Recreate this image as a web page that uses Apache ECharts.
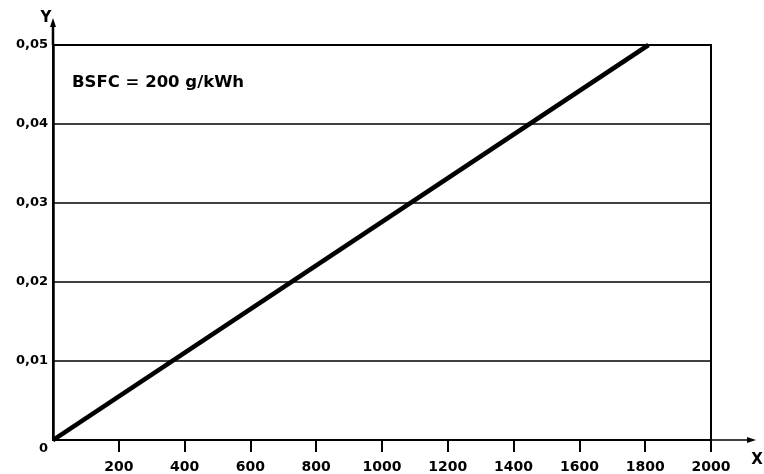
<!DOCTYPE html>
<html><head><meta charset="utf-8">
<script src="https://cdn.jsdelivr.net/npm/echarts@6/dist/echarts.min.js"></script>
<style>html,body{margin:0;padding:0;background:#fff}#c{width:764px;height:474px}</style>
</head><body><div id="c"></div>
<script>
const xValues = [0, 1810];
const yValues = [0, 0.05];
const xTicks = [0, 200, 400, 600, 800, 1000, 1200, 1400, 1600, 1800, 2000];
const yTicks = [0, 0.01, 0.02, 0.03, 0.04, 0.05];
const annotation = 'BSFC = 200 g/kWh';
const xName = 'X', yName = 'Y', originLabel = '0';

const font = 'DejaVu Sans, Liberation Sans, sans-serif';
const chart = echarts.init(document.getElementById('c'));
const option = {
  animation: false,
  grid: { left: 53, right: 53, top: 45, bottom: 31, show: true, borderColor: '#000', borderWidth: 2, backgroundColor: 'transparent' },
  xAxis: {
    type: 'value', min: xTicks[0], max: xTicks[xTicks.length - 1], interval: 200,
    axisLine: { show: true, lineStyle: { color: '#000', width: 1.5 } },
    axisTick: { show: true, inside: false, length: 12, lineStyle: { color: '#000', width: 2 } },
    axisLabel: { showMinLabel: false, margin: 20, color: '#000', fontFamily: font, fontWeight: 'bold', fontSize: 14,
      formatter: v => String(v) },
    splitLine: { show: false }
  },
  yAxis: {
    type: 'value', min: yTicks[0], max: yTicks[yTicks.length - 1], interval: 0.01,
    axisLine: { show: true, lineStyle: { color: '#000', width: 2.5 } },
    axisTick: { show: false },
    axisLabel: { showMinLabel: false, margin: 5, color: '#000', fontFamily: font, fontWeight: 'bold', fontSize: 13,
      formatter: v => v.toFixed(2).replace('.', ',') },
    splitLine: { show: true, lineStyle: { color: '#000', width: 1.5 } }
  },
  series: [{
    type: 'line', data: xValues.map((x, i) => [x, yValues[i]]), symbol: 'none',
    lineStyle: { color: '#000', width: 4.5 }, z: 5
  }]
};
chart.setOption(option);

const o = chart.convertToPixel({ gridIndex: 0 }, [0, 0]);
const tr = chart.convertToPixel({ gridIndex: 0 }, [xTicks[xTicks.length - 1], yTicks[yTicks.length - 1]]);
const txt = { fill: '#000', fontFamily: font, fontWeight: 'bold' };
chart.setOption({
  graphic: [
    { type: 'line', shape: { x1: o[0], y1: tr[1], x2: o[0], y2: tr[1] - 22 }, style: { stroke: '#000', lineWidth: 2.5 } },
    { type: 'polygon', shape: { points: [[o[0] - 3, tr[1] - 18], [o[0] + 3, tr[1] - 18], [o[0], tr[1] - 27]] }, style: { fill: '#000' } },
    { type: 'line', shape: { x1: tr[0], y1: o[1], x2: tr[0] + 40, y2: o[1] }, style: { stroke: '#000', lineWidth: 1.5 } },
    { type: 'polygon', shape: { points: [[tr[0] + 36, o[1] - 3], [tr[0] + 36, o[1] + 3], [tr[0] + 45, o[1]]] }, style: { fill: '#000' } },
    { type: 'text', x: o[0] - 7, y: tr[1] - 27, style: Object.assign({ text: yName, fontSize: 15, textAlign: 'center', textVerticalAlign: 'middle' }, txt) },
    { type: 'text', x: tr[0] + 46, y: o[1] + 20, style: Object.assign({ text: xName, fontSize: 15, textAlign: 'center', textVerticalAlign: 'middle' }, txt) },
    { type: 'text', x: o[0] - 5, y: o[1] + 9, style: Object.assign({ text: originLabel, fontSize: 13, textAlign: 'right', textVerticalAlign: 'middle' }, txt) },
    { type: 'text', x: o[0] + 19, y: tr[1] + 38, style: Object.assign({ text: annotation, fontSize: 16.5, textAlign: 'left', textVerticalAlign: 'middle' }, txt) }
  ]
});
</script></body></html>
